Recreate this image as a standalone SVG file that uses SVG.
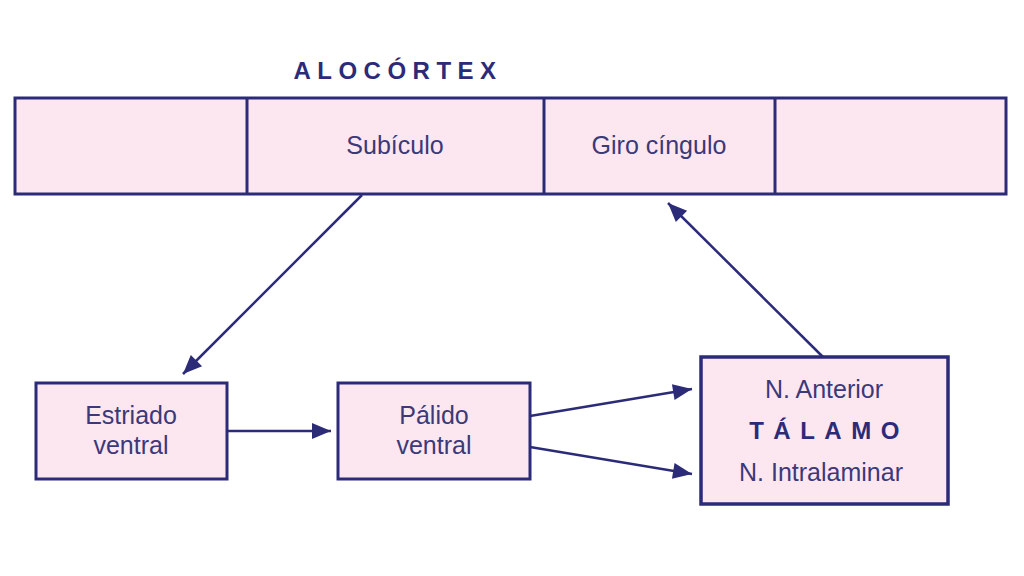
<svg xmlns="http://www.w3.org/2000/svg" width="1024" height="576" viewBox="0 0 1024 576">
<defs>
<style>
.box{fill:#fce7f1;stroke:#2c2b78;stroke-width:3}
.lbl{font-family:"Liberation Sans",Arial,sans-serif;font-size:25px;fill:#3b3978;text-anchor:middle}
.ttl{font-family:"Liberation Sans",Arial,sans-serif;font-size:24px;font-weight:bold;fill:#2c2b78;text-anchor:middle}
.con{stroke:#2c2b78;stroke-width:2.5;fill:none;marker-end:url(#ah)}
</style>
<marker id="ah" markerUnits="userSpaceOnUse" markerWidth="24" markerHeight="24" viewBox="0 0 24 24" refX="21" refY="12" orient="auto">
<path d="M2,4 L21,12 L2,20 Z" fill="#2c2b78"/>
</marker>
</defs>
<rect width="1024" height="576" fill="#ffffff"/>
<text class="ttl" x="398" y="79" style="letter-spacing:6.5px">ALOCÓRTEX</text>
<g id="alocortex">
<rect class="box" x="15" y="98" width="991" height="96"/>
<line x1="247" y1="98" x2="247" y2="194" stroke="#2c2b78" stroke-width="3"/>
<line x1="544" y1="98" x2="544" y2="194" stroke="#2c2b78" stroke-width="3"/>
<line x1="775" y1="98" x2="775" y2="194" stroke="#2c2b78" stroke-width="3"/>
</g>
<g id="subiculo"><text class="lbl" x="395" y="154">Subículo</text></g>
<g id="giro"><text class="lbl" x="659" y="154">Giro cíngulo</text></g>
<g id="estriado">
<rect class="box" x="36" y="383" width="191" height="96"/>
<text class="lbl" x="131" y="424">Estriado</text>
<text class="lbl" x="131" y="454">ventral</text>
</g>
<g id="palido">
<rect class="box" x="338" y="383" width="192" height="96"/>
<text class="lbl" x="434" y="424">Pálido</text>
<text class="lbl" x="434" y="454">ventral</text>
</g>
<g id="talamo">
<rect class="box" x="701" y="357" width="247" height="147" style="stroke-width:3.5"/>
<text class="lbl" x="824" y="398">N. Anterior</text>
<text class="ttl" x="829" y="439" style="letter-spacing:9.5px">TÁLAMO</text>
<text class="lbl" x="821" y="481">N. Intralaminar</text>
</g>
<g id="connectors">
<line class="con" x1="362" y1="195" x2="183" y2="374"/>
<line class="con" x1="227" y1="431" x2="331" y2="431"/>
<line class="con" x1="530" y1="416" x2="692" y2="389"/>
<line class="con" x1="530" y1="447" x2="692" y2="474"/>
<line class="con" x1="823" y1="357" x2="668" y2="203"/>
</g>
</svg>
